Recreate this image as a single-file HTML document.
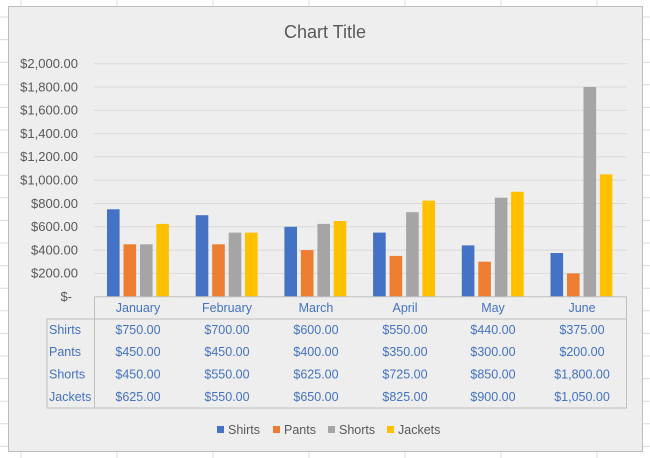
<!DOCTYPE html>
<html><head><meta charset="utf-8"><style>
html,body{margin:0;padding:0;background:#fff;}
svg{display:block;font-family:"Liberation Sans",sans-serif;}
</style></head><body>
<svg width="650" height="458" viewBox="0 0 650 458" xmlns="http://www.w3.org/2000/svg">
<g stroke="#dcdcdc" stroke-width="1">
<line x1="21" y1="0" x2="21" y2="458"/><line x1="117" y1="0" x2="117" y2="458"/><line x1="213" y1="0" x2="213" y2="458"/><line x1="309" y1="0" x2="309" y2="458"/><line x1="405" y1="0" x2="405" y2="458"/><line x1="501" y1="0" x2="501" y2="458"/><line x1="597" y1="0" x2="597" y2="458"/>
<line x1="0" y1="17" x2="650" y2="17"/><line x1="0" y1="39.6" x2="650" y2="39.6"/><line x1="0" y1="62.2" x2="650" y2="62.2"/><line x1="0" y1="84.8" x2="650" y2="84.8"/><line x1="0" y1="107.4" x2="650" y2="107.4"/><line x1="0" y1="130" x2="650" y2="130"/><line x1="0" y1="152.6" x2="650" y2="152.6"/><line x1="0" y1="175.2" x2="650" y2="175.2"/><line x1="0" y1="197.8" x2="650" y2="197.8"/><line x1="0" y1="220.4" x2="650" y2="220.4"/><line x1="0" y1="243" x2="650" y2="243"/><line x1="0" y1="265.6" x2="650" y2="265.6"/><line x1="0" y1="288.2" x2="650" y2="288.2"/><line x1="0" y1="310.8" x2="650" y2="310.8"/><line x1="0" y1="333.4" x2="650" y2="333.4"/><line x1="0" y1="356" x2="650" y2="356"/><line x1="0" y1="378.6" x2="650" y2="378.6"/><line x1="0" y1="401.2" x2="650" y2="401.2"/><line x1="0" y1="423.8" x2="650" y2="423.8"/><line x1="0" y1="446.4" x2="650" y2="446.4"/>
</g>
<rect x="8.5" y="6.5" width="634" height="445" fill="#eeeeee" stroke="#bdbdbd"/>
<text x="325" y="38" text-anchor="middle" font-size="18" fill="#595959">Chart Title</text>
<g stroke="#d9d9d9" stroke-width="1">
<line x1="94" y1="63.7" x2="627" y2="63.7"/><line x1="94" y1="87" x2="627" y2="87"/><line x1="94" y1="110.3" x2="627" y2="110.3"/><line x1="94" y1="133.6" x2="627" y2="133.6"/><line x1="94" y1="156.9" x2="627" y2="156.9"/><line x1="94" y1="180.2" x2="627" y2="180.2"/><line x1="94" y1="203.5" x2="627" y2="203.5"/><line x1="94" y1="226.8" x2="627" y2="226.8"/><line x1="94" y1="250.1" x2="627" y2="250.1"/><line x1="94" y1="273.4" x2="627" y2="273.4"/>
</g>
<g font-size="13" fill="#595959" text-anchor="end">
<text x="78" y="68">$2,000.00</text><text x="78" y="91.3">$1,800.00</text><text x="78" y="114.6">$1,600.00</text><text x="78" y="137.9">$1,400.00</text><text x="78" y="161.2">$1,200.00</text><text x="78" y="184.5">$1,000.00</text><text x="78" y="207.8">$800.00</text><text x="78" y="231.1">$600.00</text><text x="78" y="254.4">$400.00</text><text x="78" y="277.7">$200.00</text><text x="72" y="301">$-</text>
</g>
<g>
<rect x="107" y="209.3" width="12.6" height="87.4" fill="#4472c4"/><rect x="123.5" y="244.3" width="12.6" height="52.4" fill="#ed7d31"/><rect x="140" y="244.3" width="12.6" height="52.4" fill="#a5a5a5"/><rect x="156.3" y="223.9" width="12.6" height="72.8" fill="#ffc000"/>
<rect x="195.7" y="215.2" width="12.6" height="81.5" fill="#4472c4"/><rect x="212.2" y="244.3" width="12.6" height="52.4" fill="#ed7d31"/><rect x="228.7" y="232.6" width="12.6" height="64.1" fill="#a5a5a5"/><rect x="245" y="232.6" width="12.6" height="64.1" fill="#ffc000"/>
<rect x="284.4" y="226.8" width="12.6" height="69.9" fill="#4472c4"/><rect x="300.9" y="250.1" width="12.6" height="46.6" fill="#ed7d31"/><rect x="317.4" y="223.9" width="12.6" height="72.8" fill="#a5a5a5"/><rect x="333.7" y="221" width="12.6" height="75.7" fill="#ffc000"/>
<rect x="373.1" y="232.6" width="12.6" height="64.1" fill="#4472c4"/><rect x="389.6" y="255.9" width="12.6" height="40.8" fill="#ed7d31"/><rect x="406.1" y="212.2" width="12.6" height="84.5" fill="#a5a5a5"/><rect x="422.4" y="200.6" width="12.6" height="96.1" fill="#ffc000"/>
<rect x="461.8" y="245.4" width="12.6" height="51.3" fill="#4472c4"/><rect x="478.3" y="261.7" width="12.6" height="35" fill="#ed7d31"/><rect x="494.8" y="197.7" width="12.6" height="99" fill="#a5a5a5"/><rect x="511.1" y="191.8" width="12.6" height="104.9" fill="#ffc000"/>
<rect x="550.5" y="253" width="12.6" height="43.7" fill="#4472c4"/><rect x="567" y="273.4" width="12.6" height="23.3" fill="#ed7d31"/><rect x="583.5" y="87" width="12.6" height="209.7" fill="#a5a5a5"/><rect x="599.8" y="174.4" width="12.6" height="122.3" fill="#ffc000"/>
</g>
<g stroke="#bfbfbf" stroke-width="1" fill="none">
<path d="M94.5 296.7 H626.5 V408 H47 V319 H626.5"/>
<line x1="94.5" y1="296.7" x2="94.5" y2="408"/>
</g>
<g font-size="12.5" fill="#4472c4" text-anchor="middle">
<text x="138" y="312">January</text><text x="227" y="312">February</text><text x="316" y="312">March</text><text x="405" y="312">April</text><text x="493" y="312">May</text><text x="582" y="312">June</text>
<text x="138" y="334">$750.00</text><text x="227" y="334">$700.00</text><text x="316" y="334">$600.00</text><text x="405" y="334">$550.00</text><text x="493" y="334">$440.00</text><text x="582" y="334">$375.00</text>
<text x="138" y="356">$450.00</text><text x="227" y="356">$450.00</text><text x="316" y="356">$400.00</text><text x="405" y="356">$350.00</text><text x="493" y="356">$300.00</text><text x="582" y="356">$200.00</text>
<text x="138" y="378.5">$450.00</text><text x="227" y="378.5">$550.00</text><text x="316" y="378.5">$625.00</text><text x="405" y="378.5">$725.00</text><text x="493" y="378.5">$850.00</text><text x="582" y="378.5">$1,800.00</text>
<text x="138" y="401">$625.00</text><text x="227" y="401">$550.00</text><text x="316" y="401">$650.00</text><text x="405" y="401">$825.00</text><text x="493" y="401">$900.00</text><text x="582" y="401">$1,050.00</text>
</g>
<g font-size="12.5" fill="#4472c4">
<text x="49" y="334">Shirts</text><text x="49" y="356">Pants</text><text x="49" y="378.5">Shorts</text><text x="49" y="401">Jackets</text>
</g>
<g font-size="12.5" fill="#595959">
<rect x="217" y="426" width="7" height="7" fill="#4472c4"/><text x="228" y="434">Shirts</text>
<rect x="273" y="426" width="7" height="7" fill="#ed7d31"/><text x="284" y="434">Pants</text>
<rect x="328" y="426" width="7" height="7" fill="#a5a5a5"/><text x="339" y="434">Shorts</text>
<rect x="387" y="426" width="7" height="7" fill="#ffc000"/><text x="398" y="434">Jackets</text>
</g>
</svg>
</body></html>
